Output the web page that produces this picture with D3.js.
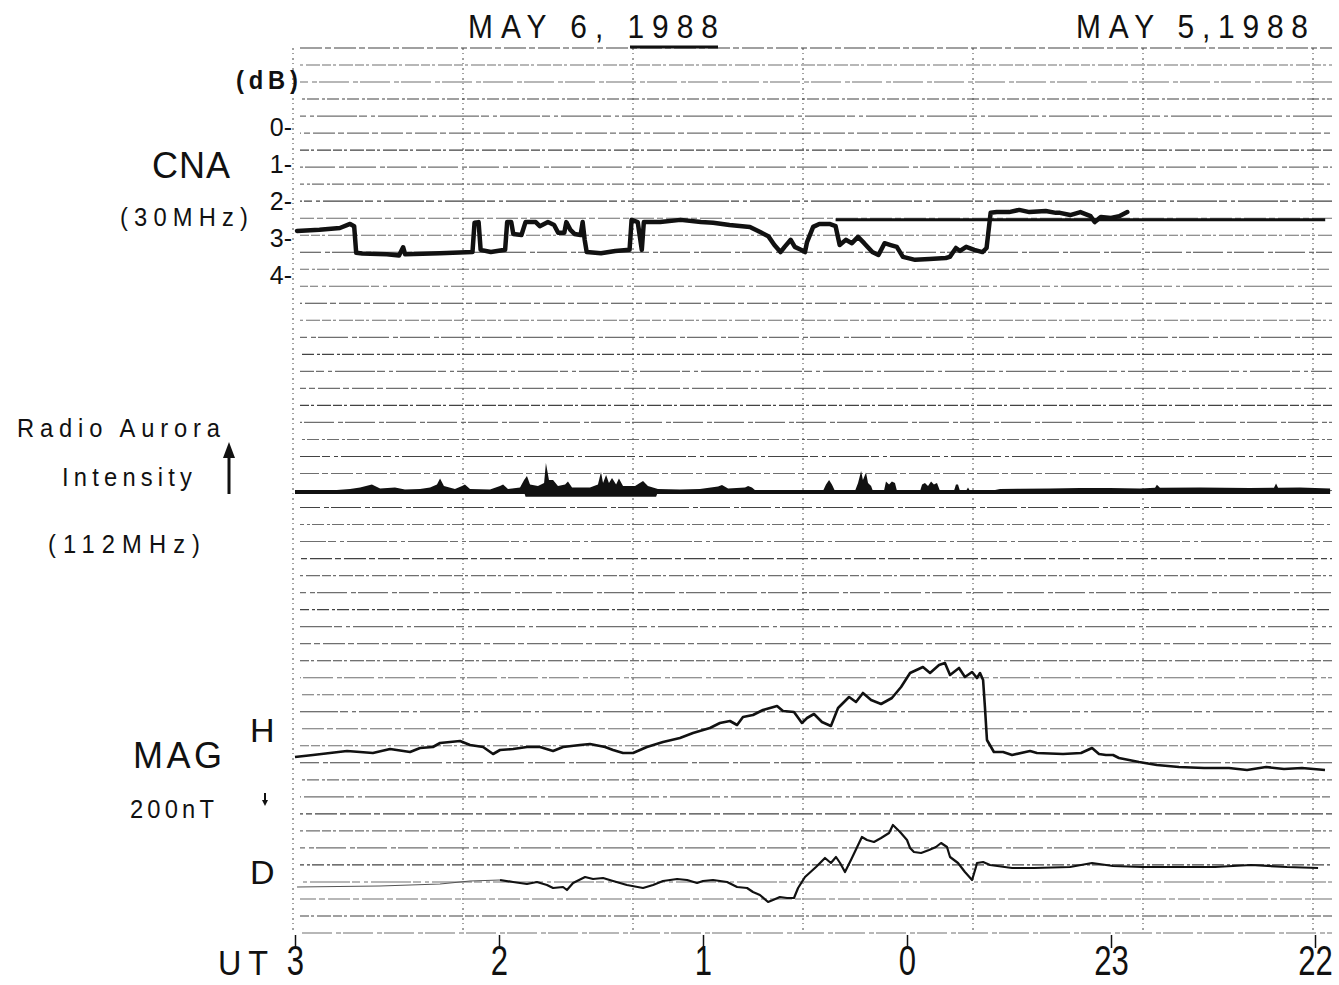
<!DOCTYPE html>
<html>
<head>
<meta charset="utf-8">
<script src="https://cdn.jsdelivr.net/npm/d3@7/dist/d3.min.js"></script>
<style>
  body { margin: 0; background: #fff; }
  svg { display: block; background: #fff; }
  text { font-family: "Liberation Sans", Arial, sans-serif; fill: #111; }
</style>
</head>
<body>
<svg id="chart" width="1339" height="985"></svg>
<script>
// time is UT hours counted on May 6 (negative = May 5, so -1 is 23 UT)
var utTicks = [3, 2, 1, 0, -1, -2];
var dbTicks = [0, 1, 2, 3, 4];

// CNA 30 MHz absorption, dB
var cna = [
  [2.99,2.81],[2.88,2.78],[2.78,2.73],[2.73,2.62],[2.71,2.68],[2.70,3.40],[2.67,3.42],
  [2.55,3.44],[2.49,3.47],[2.47,3.25],[2.46,3.44],[2.29,3.41],[2.13,3.38],[2.12,2.59],[2.10,2.57],
  [2.09,3.32],[2.04,3.38],[1.97,3.32],[1.96,2.57],[1.94,2.57],[1.93,2.89],[1.89,2.92],
  [1.87,2.57],[1.82,2.57],[1.80,2.68],[1.76,2.57],[1.73,2.65],[1.71,2.86],[1.68,2.86],
  [1.67,2.57],[1.65,2.78],[1.63,2.89],[1.60,2.92],[1.59,2.57],[1.58,3.05],[1.57,3.38],
  [1.50,3.41],[1.43,3.35],[1.36,3.32],[1.35,2.51],[1.32,2.57],[1.30,3.32],[1.29,2.57],
  [1.21,2.57],[1.11,2.51],[1.01,2.57],[0.95,2.59],[0.87,2.65],[0.77,2.70],[0.72,2.84],
  [0.68,2.95],[0.65,3.19],[0.62,3.38],[0.60,3.24],[0.57,3.05],[0.55,3.24],[0.52,3.32],
  [0.50,3.38],[0.49,3.11],[0.46,2.70],[0.43,2.62],[0.38,2.62],[0.35,2.68],[0.33,3.19],
  [0.30,3.05],[0.27,3.14],[0.24,2.97],[0.21,3.14],[0.17,3.38],[0.14,3.46],[0.11,3.14],
  [0.08,3.19],[0.05,3.24],[0.02,3.51],[-0.04,3.59],[-0.11,3.57],[-0.19,3.54],[-0.21,3.51],
  [-0.24,3.27],[-0.26,3.35],[-0.29,3.24],[-0.33,3.32],[-0.37,3.38],[-0.39,3.27],
  [-0.41,2.32],[-0.44,2.30],[-0.50,2.30],[-0.55,2.24],[-0.60,2.30],[-0.68,2.27],
  [-0.73,2.32],[-0.75,2.32],[-0.80,2.38],[-0.85,2.30],[-0.90,2.41],[-0.92,2.57],
  [-0.95,2.43],[-1.00,2.46],[-1.04,2.41],[-1.08,2.30]
];
// straight pen level drawn across the May 5 side
var cnaLevel = [[0.35,2.51],[-2.05,2.51]];

// radio aurora 112 MHz, relative intensity above the baseline
var aurora = [
  [2.990,0.3],[2.828,0.5],[2.730,1],[2.681,1.5],[2.623,2.5],[2.583,1.2],[2.510,1.5],
  [2.461,0.8],[2.387,1],[2.338,1.5],[2.304,2.5],[2.289,4.5],[2.270,2],[2.216,1],
  [2.181,2],[2.167,2.5],[2.142,1],[2.044,0.8],[1.995,2],[1.980,2.5],[1.956,1],
  [1.897,1.5],[1.877,4],[1.863,5.3],[1.848,2.5],[1.809,2],[1.779,3],[1.770,9.7],
  [1.755,4],[1.735,4],[1.711,2],[1.676,2.5],[1.662,3.5],[1.642,1.5],[1.554,1.5],
  [1.515,2.5],[1.500,6.7],[1.490,3],[1.475,5.7],[1.461,3],[1.446,4.7],[1.426,2.5],
  [1.412,4.5],[1.392,2],[1.333,2],[1.294,3.7],[1.270,2],[1.221,1],[1.113,0.8],
  [1.015,1],[0.926,1.8],[0.907,2.3],[0.877,1.2],[0.794,1.5],[0.779,2],[0.760,1.5],
  [0.740,0.3],[0.412,0.3],[0.397,2.5],[0.382,4],[0.368,2.5],[0.353,0.3],
  [0.255,0.3],[0.240,3],[0.225,7],[0.216,4],[0.201,6.5],[0.191,3],[0.176,2],[0.167,0.3],
  [0.113,0.3],[0.103,3.5],[0.088,2.5],[0.074,3.5],[0.059,3],[0.049,0.3],
  [-0.064,0.3],[-0.074,2.5],[-0.088,3],[-0.103,2],[-0.118,3.5],[-0.132,2.5],[-0.147,3],[-0.162,0.3],
  [-0.230,0.3],[-0.240,2.5],[-0.250,2.5],[-0.260,0.3],
  [-0.289,0.3],[-0.299,1.5],[-0.309,0.3],
  [-0.407,0.3],[-0.456,1.0],[-0.554,1.1],[-0.701,1.2],[-0.848,1.3],[-0.995,1.3],
  [-1.142,1.2],[-1.216,1.4],[-1.225,2.4],[-1.240,1.4],[-1.436,1.5],[-1.681,1.3],[-1.799,1.4],
  [-1.809,2.8],[-1.819,1.4],[-1.926,1.5],[-2.074,1.2]
];
var auroraLow = [[1.877,0],[1.870,-1.6],[1.230,-1.6],[1.221,0]];

// magnetometer, nT relative to the start of each trace
var magH = [
  [3.000,0],[2.912,4],[2.745,12],[2.618,8],[2.534,16],[2.436,10],[2.387,18],[2.324,20],
  [2.289,28],[2.191,32],[2.142,24],[2.078,20],[2.029,6],[1.995,14],[1.931,16],[1.863,20],
  [1.799,20],[1.735,12],[1.686,20],[1.603,24],[1.554,26],[1.480,20],[1.441,14],[1.392,8],
  [1.343,8],[1.275,20],[1.196,30],[1.113,38],[1.049,48],[0.966,58],[0.917,68],[0.868,72],
  [0.833,64],[0.804,80],[0.755,84],[0.706,94],[0.637,102],[0.608,92],[0.554,90],
  [0.515,68],[0.490,78],[0.456,86],[0.417,70],[0.373,62],[0.338,98],[0.284,120],
  [0.250,110],[0.216,128],[0.176,114],[0.127,106],[0.074,118],[0.029,140],[-0.015,168],
  [-0.078,180],[-0.113,168],[-0.157,184],[-0.186,188],[-0.211,164],[-0.255,178],
  [-0.284,160],[-0.319,170],[-0.343,158],[-0.358,168],[-0.373,154],[-0.382,100],
  [-0.392,34],[-0.426,10],[-0.471,10],[-0.515,4],[-0.603,12],[-0.637,8],[-0.765,6],
  [-0.853,8],[-0.907,18],[-0.941,6],[-0.975,4],[-1.010,4],[-1.039,-2],[-1.137,-10],
  [-1.225,-16],[-1.333,-20],[-1.456,-22],[-1.578,-22],[-1.667,-26],[-1.760,-20],
  [-1.848,-24],[-1.936,-22],[-2.049,-26]
];
var magDFaint = [[2.990,-2],[2.583,0],[2.289,4],[2.142,10],[1.995,12]];
var magD = [
  [1.995,12],[1.931,8],[1.863,4],[1.814,8],[1.765,2],[1.735,-4],[1.686,-2],[1.667,-8],
  [1.637,6],[1.578,18],[1.539,14],[1.490,16],[1.441,10],[1.373,2],[1.294,-4],[1.245,2],
  [1.196,10],[1.127,14],[1.078,12],[1.029,6],[1.000,10],[0.951,12],[0.882,8],[0.833,-2],
  [0.784,-4],[0.755,-12],[0.721,-18],[0.681,-32],[0.657,-28],[0.623,-22],[0.588,-24],
  [0.554,-24],[0.534,-4],[0.500,18],[0.446,38],[0.402,56],[0.373,46],[0.348,58],
  [0.328,46],[0.304,28],[0.270,56],[0.221,98],[0.196,92],[0.162,88],[0.127,96],
  [0.088,106],[0.069,122],[0.034,108],[0.000,92],[-0.015,76],[-0.034,68],[-0.069,66],
  [-0.108,72],[-0.142,78],[-0.167,86],[-0.196,78],[-0.211,58],[-0.250,46],[-0.284,28],
  [-0.319,12],[-0.338,38],[-0.343,46],[-0.373,48],[-0.407,42],[-0.515,36],[-0.623,36],
  [-0.799,38],[-0.907,46],[-1.010,40],[-1.152,38],[-1.333,38],[-1.510,38],[-1.686,42],
  [-1.863,38],[-2.015,36]
];

var svg = d3.select("#chart");

var x = d3.scaleLinear().domain([3, -2]).range([295, 1315]);
var yCna = d3.scaleLinear().domain([0, 4]).range([127, 275]);
var yAur = d3.scaleLinear().domain([0, 10]).range([492, 462]);
var yH = d3.scaleLinear().domain([0, 200]).range([757, 657]);
var yD = d3.scaleLinear().domain([0, 200]).range([886, 786]);

// chart paper: 52 rows, 6 columns
var yRow = d3.scaleLinear().domain([0, 52]).range([48, 933]);
var xCol = d3.scaleLinear().domain([0, 6]).range([293, 1313]);
var dashes = ["22,3,6,3", "9,2,3,3,14,2", "30,4,5,2", "12,3,3,2", "40,2,8,4,4,3"];

var paper = svg.append("g").attr("class", "paper");
paper.selectAll("line.row")
  .data(d3.range(53))
  .enter().append("line")
    .attr("class", "row")
    .attr("x1", 300).attr("x2", 1332)
    .attr("y1", function(d) { return yRow(d); })
    .attr("y2", function(d) { return yRow(d); })
    .attr("stroke", "#222")
    .attr("stroke-opacity", function(d) { return d % 3 == 0 ? 0.85 : 0.65; })
    .attr("stroke-width", 1.1)
    .attr("stroke-dasharray", function(d) { return dashes[d % dashes.length]; })
    .attr("stroke-dashoffset", function(d) { return d * 11; });

paper.selectAll("line.col")
  .data(d3.range(7))
  .enter().append("line")
    .attr("class", "col")
    .attr("x1", function(d) { return xCol(d); })
    .attr("x2", function(d) { return xCol(d); })
    .attr("y1", yRow(0)).attr("y2", yRow(52))
    .attr("stroke", "#444")
    .attr("stroke-width", 1)
    .attr("stroke-dasharray", "2,3,1,4");

// thick pen stroke under "1988"
svg.append("line")
  .attr("x1", 630).attr("x2", 718).attr("y1", 47).attr("y2", 47)
  .attr("stroke", "#111").attr("stroke-width", 3);

function trace(data, yScale) {
  return d3.line()
    .x(function(d) { return x(d[0]); })
    .y(function(d) { return yScale(d[1]); })(data);
}

// CNA
svg.append("path")
  .attr("d", trace(cnaLevel, yCna))
  .attr("fill", "none").attr("stroke", "#111").attr("stroke-width", 3);
svg.append("path")
  .attr("d", trace(cna, yCna))
  .attr("fill", "none").attr("stroke", "#111").attr("stroke-width", 4.5)
  .attr("stroke-linejoin", "round").attr("stroke-linecap", "round");

// radio aurora
var auroraArea = d3.area()
  .x(function(d) { return x(d[0]); })
  .y0(yAur(0))
  .y1(function(d) { return yAur(d[1]); });
svg.append("path").attr("d", auroraArea(aurora)).attr("fill", "#111");
svg.append("path").attr("d", auroraArea(auroraLow)).attr("fill", "#111");
svg.append("line")
  .attr("x1", x(3)).attr("x2", x(-2.074))
  .attr("y1", yAur(0)).attr("y2", yAur(0))
  .attr("stroke", "#111").attr("stroke-width", 4);

// magnetometer
svg.append("path")
  .attr("d", trace(magH, yH))
  .attr("fill", "none").attr("stroke", "#111").attr("stroke-width", 2.6)
  .attr("stroke-linejoin", "round");
svg.append("path")
  .attr("d", trace(magDFaint, yD))
  .attr("fill", "none").attr("stroke", "#555").attr("stroke-width", 1.2);
svg.append("path")
  .attr("d", trace(magD, yD))
  .attr("fill", "none").attr("stroke", "#111").attr("stroke-width", 2.2)
  .attr("stroke-linejoin", "round");

// UT axis, narrow tall digits like the original lettering
var axis = svg.append("g")
  .attr("transform", "translate(0,935)")
  .style("color", "#111")
  .call(d3.axisBottom(x)
    .tickValues(utTicks)
    .tickSize(13)
    .tickSizeOuter(0)
    .tickFormat(function(d) { return d < 0 ? d + 24 : d; }));
axis.select(".domain").remove();
axis.selectAll(".tick line").attr("stroke-width", 1.5);
axis.selectAll(".tick text")
  .attr("y", 40).attr("dy", null)
  .attr("transform", "scale(0.74,1)")
  .style("font-size", "42px")
  .style("font-family", "'Liberation Sans', Arial, sans-serif");

// dB scale
svg.append("g").selectAll("text")
  .data(dbTicks)
  .enter().append("text")
    .attr("x", 292)
    .attr("y", function(d) { return yCna(d) + 9; })
    .attr("text-anchor", "end")
    .style("font-size", "25px")
    .text(function(d) { return d + "-"; });

// sx squeezes the glyphs, textLength then sets the overall width
function label(txt, lx, ly, size, w, sx, weight) {
  sx = sx || 1;
  svg.append("text")
    .attr("transform", "translate(" + lx + "," + ly + ") scale(" + sx + ",1)")
    .attr("textLength", w / sx)
    .attr("lengthAdjust", "spacing")
    .style("font-size", size + "px")
    .style("font-weight", weight || "normal")
    .text(txt);
}

label("MAY 6, 1988", 468, 38, 34, 250, 0.88);
label("MAY 5,1988", 1076, 38, 34, 232, 0.88);
label("(dB)", 236, 89, 25, 62, 0.95, "bold");
label("CNA", 152, 178, 36, 78);
label("(30MHz)", 120, 226, 25, 128, 0.95);
label("Radio Aurora", 17, 437, 25, 203, 0.95);
label("Intensity", 62, 486, 25, 130, 0.95);
label("(112MHz)", 48, 553, 25, 152, 0.95);
label("H", 250, 742, 34, 25);
label("MAG", 133, 768, 36, 89);
label("200nT", 130, 818, 25, 84, 0.95);
label("D", 250, 884, 34, 22);
label("UT", 218, 975, 36, 50, 0.9);

// arrows next to the labels
svg.append("line")
  .attr("x1", 229).attr("x2", 229).attr("y1", 494).attr("y2", 456)
  .attr("stroke", "#111").attr("stroke-width", 3);
svg.append("path")
  .attr("d", d3.line()([[223, 458], [229, 442], [235, 458]]) + "Z")
  .attr("fill", "#111");
svg.append("line")
  .attr("x1", 265).attr("x2", 265).attr("y1", 793).attr("y2", 800)
  .attr("stroke", "#111").attr("stroke-width", 2);
svg.append("path")
  .attr("d", d3.line()([[262, 800], [265, 806], [268, 800]]) + "Z")
  .attr("fill", "#111");
</script>
</body>
</html>
